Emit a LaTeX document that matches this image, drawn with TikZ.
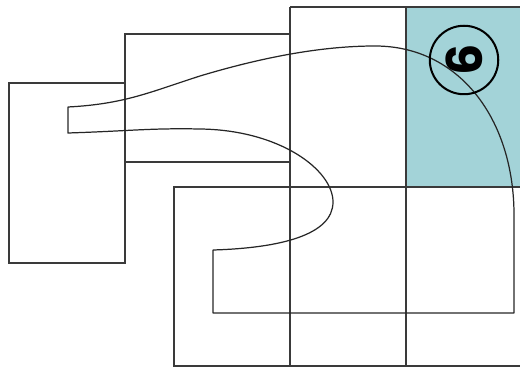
\documentclass[tikz,border=0pt]{standalone}
\usepackage{fontspec}
\usepackage{xcolor}
\usepackage{tikz}
\usetikzlibrary{calc}
\newfontfamily\stepfont{Poppins}
\definecolor{cellteal}{HTML}{A3D3D8}
\definecolor{planline}{HTML}{3A3A3A}

\begin{document}
\begin{tikzpicture}[x=0.02cm,y=-0.02cm,
    room/.style={draw=planline,line width=0.6pt},
    route/.style={draw=black!85,line width=0.7pt,line join=round},
    stepmark/.style={circle,draw=black,line width=1.15pt,minimum size=1.37cm,
      inner sep=0pt,rotate=90,font=\stepfont\bfseries\fontsize{28}{28}\selectfont}]
    \useasboundingbox (0,0) rectangle (520,367);
    \clip (0,0) rectangle (520,367);

    % Highlighted cell of the grid.
    \fill[cellteal] (406,7) rectangle (524,187);

    % Rooms on the left.
    \draw[room] (9,83) rectangle (125,263);
    \draw[room] (125,34) rectangle (290,162);
    \draw[room] (174,187) rectangle (290,366);

    % Grid of cells on the right.
    \draw[room] (290,7) -- (524,7);
    \draw[room] (174,187) -- (524,187);
    \draw[room] (174,366) -- (524,366);
    \foreach \xcol in {290,406} {
      \draw[room] (\xcol,7) -- (\xcol,366);
    }

    % The walking route through the rooms.
    \draw[route] (213,250) -- (213,313) -- (514,313) -- (514,215)
      .. controls (514,120) and (460,46) .. (375,46)
      .. controls (320,46) and (260,58) .. (200,76)
      .. controls (150,92) and (125,104) .. (68,107)
      -- (68,133)
      .. controls (130,131) and (150,128) .. (200,129)
      .. controls (280,130) and (333,170) .. (333,202)
      .. controls (333,235) and (280,248) .. (213,250);

    % Step number.
    \node[stepmark] (six) at (464,60) {6};
  \end{tikzpicture}
\end{document}
